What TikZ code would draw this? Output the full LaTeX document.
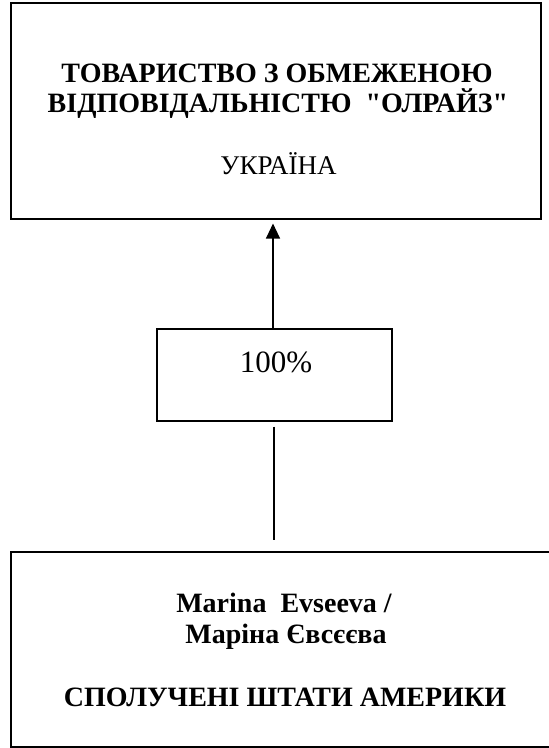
\documentclass[tikz,border=0pt]{standalone}
\usepackage{fontspec}
\setmainfont{Liberation Serif}[Ligatures=TeXOff]
\usetikzlibrary{arrows.meta}
\begin{document}
\begin{tikzpicture}[x=1pt,y=-1pt,
  box/.style={draw, line width=1.1pt, inner sep=0pt},
  boldtxt/.style={font=\fontsize{28}{30.5}\selectfont\bfseries, inner sep=0pt, anchor=base},
  plaintxt/.style={font=\fontsize{27}{30}\selectfont, inner sep=0pt, anchor=base},
  conn/.style={line width=1.2pt}
]
\useasboundingbox (0,0) rectangle (549,748);
\node[box, minimum width=530pt, minimum height=216pt] (top) at (276,111) {};
\node[box, minimum width=235pt, minimum height=92pt] (mid) at (274.5,375) {};
\node[box, minimum width=548pt, minimum height=195pt] (bot) at (285,649.5) {};
\node[boldtxt] (title1) at (277,82) {ТОВАРИСТВО З ОБМЕЖЕНОЮ};
\node[boldtxt] (title2) at (278,112) {ВІДПОВІДАЛЬНІСТЮ \ "ОЛРАЙЗ"};
\node[plaintxt] (country) at (278.5,174) {УКРАЇНА};
\node[plaintxt, font=\fontsize{31}{31}\selectfont] (share) at (276,372) {100\%};
\node[boldtxt] (owner1) at (284,612) {Marina \ Evseeva /};
\node[boldtxt] (owner2) at (286,643) {Маріна Євсєєва};
\node[boldtxt] (ocountry) at (285,706) {СПОЛУЧЕНІ ШТАТИ АМЕРИКИ};
\draw[conn, -{Triangle[width=14pt,length=15pt]}, shorten >=4pt] (mid.north -| 273,0) -- (top.south -| 273,0);
\draw[conn, shorten <=5pt, shorten >=11pt] (mid.south -| 274,0) -- (bot.north -| 274,0);
\end{tikzpicture}
\end{document}
